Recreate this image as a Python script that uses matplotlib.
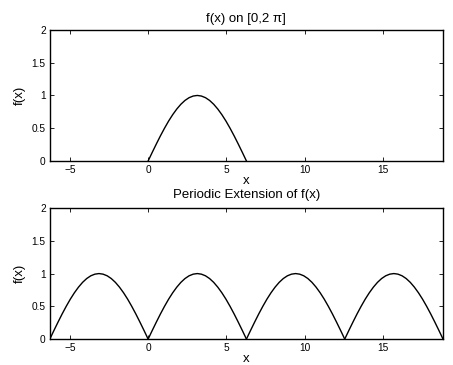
import matplotlib
matplotlib.use("Agg")
import matplotlib.pyplot as plt
import numpy as np

plt.rcParams['font.family'] = ['Liberation Sans', 'DejaVu Sans']

arc_y = [0.0, 0.131, 0.259, 0.383, 0.5, 0.609, 0.707, 0.793, 0.866, 0.924,
         0.966, 0.991, 1.0, 0.991, 0.966, 0.924, 0.866, 0.793, 0.707, 0.609,
         0.5, 0.383, 0.259, 0.131, 0.0]
arc_x = np.linspace(0, 2 * np.pi, len(arc_y))

# shifts used for the periodic extension
shifts = [-2 * np.pi, 0, 2 * np.pi, 4 * np.pi]

xticks = [-5, 0, 5, 10, 15]
yticks = [0, 0.5, 1, 1.5, 2]
yticklabels = ["0", "0.5", "1", "1.5", "2"]

fig = plt.figure(figsize=(4.53, 3.65), dpi=100)
ax1 = fig.add_axes([0.110, 0.559, 0.868, 0.359])
ax2 = fig.add_axes([0.110, 0.071, 0.868, 0.359])

ax1.plot(arc_x, arc_y, color="black", lw=1.0)
for s in shifts:
    ax2.plot(arc_x + s, arc_y, color="black", lw=1.0)

for ax, title, tpad in [(ax1, "f(x) on [0,2 \u03c0]", 5.5),
                        (ax2, "Periodic Extension of f(x)", 7.5)]:
    ax.set_xlim(-2 * np.pi, 6 * np.pi)
    ax.set_ylim(0, 2)
    ax.set_xticks(xticks)
    ax.set_yticks(yticks)
    ax.set_yticklabels(yticklabels)
    ax.tick_params(direction="in", length=3, width=0.6, labelsize=7.3,
                   top=True, right=True, pad=3)
    for sp in ax.spines.values():
        sp.set_linewidth(1.0)
    ax.set_xlabel("x", fontsize=9.5, labelpad=0)
    ax.set_ylabel("f(x)", fontsize=9.5, labelpad=4)
    ax.set_title(title, fontsize=9.5, pad=tpad)

plt.savefig("out.png", dpi=100)
